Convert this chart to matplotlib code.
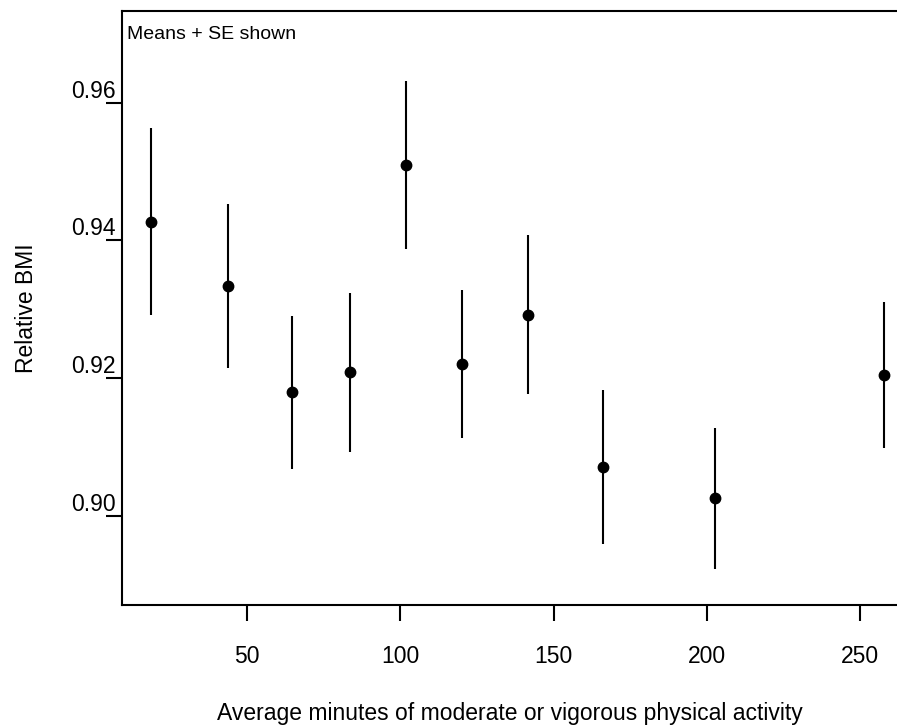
import matplotlib
matplotlib.use("Agg")
import matplotlib.pyplot as plt

plt.rcParams['font.family'] = ['Liberation Sans', 'DejaVu Sans']

# minutes of activity (bin means), relative BMI means and SE
minutes = [18.7, 43.9, 64.8, 83.6, 101.8, 120.1, 141.5, 166.2, 202.6, 257.8]
bmi_mean = [0.9427, 0.9333, 0.9179, 0.9208, 0.9509, 0.9220, 0.9292, 0.9071, 0.9025, 0.9204]
bmi_se = [0.0136, 0.0119, 0.0111, 0.0116, 0.0122, 0.0107, 0.0115, 0.0112, 0.0102, 0.0106]

xticks = [50, 100, 150, 200, 250]
yticks = [0.90, 0.92, 0.94, 0.96]

fig = plt.figure(figsize=(8.97, 7.26), dpi=100)
ax = fig.add_axes([122 / 897, 121 / 726, 775 / 897, 594 / 726])

ax.errorbar(minutes, bmi_mean, yerr=bmi_se, fmt='o', color='black',
            ms=7.5, elinewidth=1.5, capsize=0, clip_on=False)

ax.set_xlim(9.2, 262)
ax.set_ylim(0.887, 0.9733)
ax.set_xticks(xticks)
ax.set_xticklabels([str(t) for t in xticks])
ax.set_yticks(yticks)
ax.set_yticklabels(['%.2f' % t for t in yticks])

ax.spines['right'].set_visible(False)
for s in ['left', 'bottom', 'top']:
    ax.spines[s].set_linewidth(1.5)

ax.tick_params(axis='x', direction='out', length=11.5, width=1.5,
               labelsize=16.5, pad=17)
ax.tick_params(axis='y', direction='out', length=11.5, width=1.5,
               labelsize=16.5, pad=-7.2)
for lab in ax.get_yticklabels():
    lab.set_verticalalignment('bottom')

ax.set_xlabel('Average minutes of moderate or vigorous physical activity',
              fontsize=16.5, labelpad=25)
ax.set_ylabel('Relative BMI', fontsize=16.5, labelpad=24)

ax.text(5 / 775, 566 / 594, 'Means + SE shown', transform=ax.transAxes,
        fontsize=14, ha='left', va='baseline')

fig.savefig('out.png', dpi=100)
